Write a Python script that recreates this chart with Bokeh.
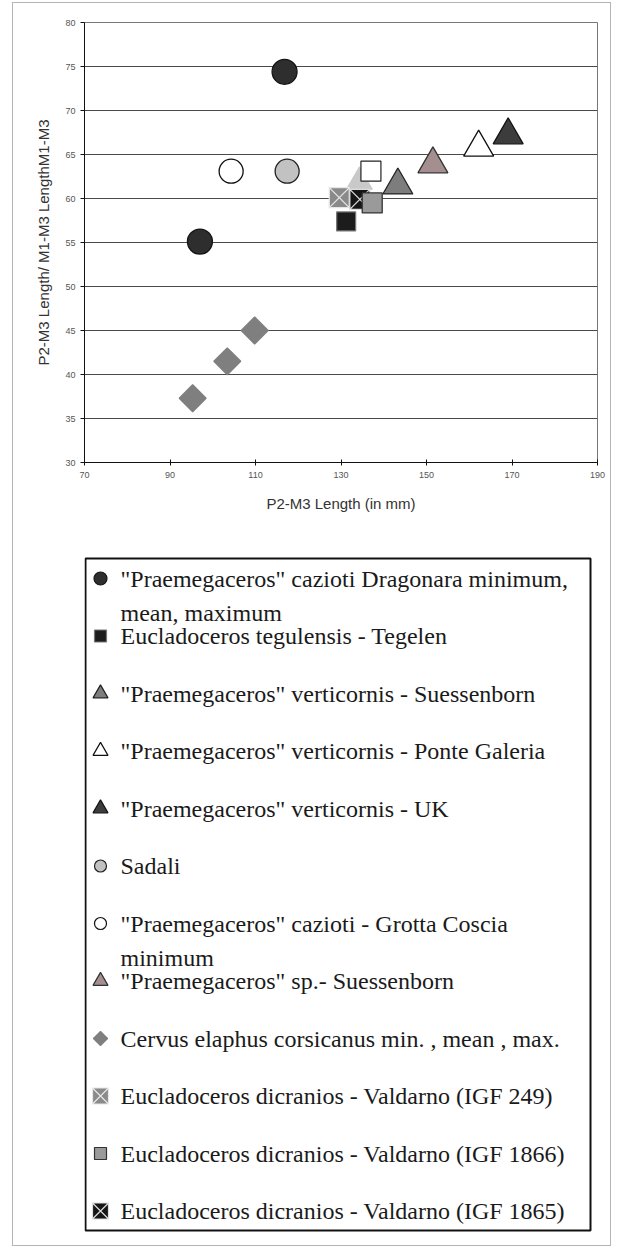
import math
from bokeh.plotting import figure
from bokeh.layouts import column
from bokeh.models import Range1d, FixedTicker, ColumnDataSource
from bokeh.core.properties import value
from bokeh.embed import file_html
from bokeh.resources import INLINE

# ---------------- data ----------------
series_names = [
    '"Praemegaceros" cazioti Dragonara minimum,\nmean, maximum',
    'Eucladoceros tegulensis - Tegelen',
    '"Praemegaceros" verticornis - Suessenborn',
    '"Praemegaceros" verticornis - Ponte Galeria',
    '"Praemegaceros" verticornis - UK',
    'Sadali',
    ' "Praemegaceros" cazioti - Grotta Coscia\nminimum',
    '"Praemegaceros" sp.-  Suessenborn',
    'Cervus elaphus corsicanus min. , mean , max.',
    'Eucladoceros dicranios - Valdarno (IGF 249)',
    'Eucladoceros dicranios - Valdarno (IGF 1866)',
    'Eucladoceros dicranios - Valdarno (IGF 1865)',
]
series_x = [
    [97.0, 116.8],
    [131.2],
    [143.3],
    [162.2],
    [169.1],
    [117.4],
    [104.3],
    [151.5],
    [95.3, 103.4, 109.8],
    [129.6],
    [137.3],
    [134.4],
]
series_y = [
    [55.1, 74.4],
    [57.4],
    [61.5],
    [65.8],
    [67.2],
    [63.1],
    [63.1],
    [63.9],
    [37.3, 41.5, 45.0],
    [60.1],
    [59.5],
    [59.9],
]
# unlabelled points visible in the chart
extra_x = [137.0, 134.3]
extra_y = [63.1, 61.9]

x_ticks = [70, 90, 110, 130, 150, 170, 190]
y_ticks = [30, 35, 40, 45, 50, 55, 60, 65, 70, 75, 80]

# ---------------- styles ----------------
styles = [
    dict(marker="circle", fill="#2e2e2e", line="#151515", size=25, lsize=13, angle=0),
    dict(marker="square", fill="#1c1c1c", line="#777777", size=19, lsize=12, angle=0),
    dict(marker="triangle", fill="#7d7d7d", line="#222222", size=30, lsize=15, angle=0),
    dict(marker="triangle", fill="#ffffff", line="#111111", size=30, lsize=15, angle=0),
    dict(marker="triangle", fill="#3c3c3c", line="#151515", size=30, lsize=15, angle=0),
    dict(marker="circle", fill="#c2c2c2", line="#222222", size=24, lsize=12, angle=0),
    dict(marker="circle", fill="#ffffff", line="#111111", size=24, lsize=12, angle=0),
    dict(marker="triangle", fill="#a48e90", line="#333333", size=30, lsize=15, angle=0),
    dict(marker="square", fill="#7f7f7f", line="#7f7f7f", size=19, lsize=10, angle=math.pi / 4),
    dict(marker="square_x", fill="#8a8a8a", line="#e6e6e6", size=20, lsize=16, angle=0),
    dict(marker="square", fill="#9a9a9a", line="#333333", size=20, lsize=12, angle=0),
    dict(marker="square_x", fill="#151515", line="#dddddd", size=20, lsize=16, angle=0),
]
draw_order = [8, 0, 5, 6, 2, 7, 3, 4, 9, 11, 10, 1]

# ---------------- scatter figure ----------------
W = 597
H1 = 530
p1 = figure(width=W, height=H1, output_backend="svg", toolbar_location=None,
            x_range=Range1d(70, 190), y_range=Range1d(30, 80),
            min_border_left=71, min_border_right=13, min_border_top=19,
            min_border_bottom=H1 - 19 - 440)
p1.background_fill_color = "white"
p1.border_fill_color = "white"
p1.outline_line_color = "#777777"
p1.outline_line_width = 1

p1.xgrid.visible = False
p1.ygrid.ticker = FixedTicker(ticks=y_ticks)
p1.ygrid.grid_line_color = "#4a4a4a"
p1.ygrid.grid_line_width = 1

for ax in (p1.xaxis, p1.yaxis):
    ax.axis_line_color = "#111111"
    ax.major_tick_line_color = "#111111"
    ax.minor_tick_line_color = None
    ax.major_label_text_font = "Liberation Sans"
    ax.major_label_text_font_size = "9px"
    ax.major_label_text_color = "#555555"
    ax.axis_label_text_font = "Liberation Sans"
    ax.axis_label_text_font_size = "15px"
    ax.axis_label_text_font_style = "normal"
    ax.axis_label_text_color = "#333333"

p1.xaxis.ticker = FixedTicker(ticks=x_ticks)
p1.xaxis.major_tick_in = 3
p1.xaxis.major_tick_out = 3
p1.xaxis.major_label_standoff = 6
p1.xaxis.axis_label = "P2-M3 Length (in mm)"
p1.xaxis.axis_label_standoff = 14

p1.yaxis.ticker = FixedTicker(ticks=y_ticks)
p1.yaxis.major_tick_in = 0
p1.yaxis.major_tick_out = 4
p1.yaxis.major_label_standoff = 5
p1.yaxis.axis_label = "P2-M3 Length/ M1-M3 LengthM1-M3"
p1.yaxis.axis_label_standoff = 10

# unlabelled points (behind)
p1.scatter(x=[extra_x[1]], y=[extra_y[1]], marker="triangle", size=26,
           fill_color="#c9c9c9", line_color="#c9c9c9")
p1.scatter(x=[extra_x[0]], y=[extra_y[0]], marker="square", size=20,
           fill_color="#ffffff", line_color="#222222", line_width=1.2)

for i in draw_order:
    st = styles[i]
    p1.scatter(x=series_x[i], y=series_y[i], marker=st["marker"], size=st["size"],
               angle=st["angle"], fill_color=st["fill"], line_color=st["line"],
               line_width=1.3)

# ---------------- legend figure ----------------
H2 = 712
top2 = 3 + H1  # page y where the legend figure starts
p2 = figure(width=W, height=H2, output_backend="svg", toolbar_location=None,
            x_range=Range1d(84, 597), y_range=Range1d(top2 + H2, top2),
            min_border=0, min_border_left=0, min_border_right=0,
            min_border_top=0, min_border_bottom=0)
p2.axis.visible = False
p2.grid.visible = False
p2.outline_line_color = None
p2.background_fill_color = "white"
p2.border_fill_color = "white"

box_left, box_right, box_top, box_bottom = 85, 590, 558, 1230
p2.quad(left=[box_left], right=[box_right], top=[box_top], bottom=[box_bottom],
        fill_color=None, line_color="#111111", line_width=2)

row0 = 578
row_step = 57.5
line2 = 34
marker_x = 100
text_x = 120

txt_x, txt_y, txt = [], [], []
for i, name in enumerate(series_names):
    y0 = row0 + i * row_step
    for j, part in enumerate(name.split("\n")):
        txt_x.append(text_x)
        txt_y.append(y0 + j * line2)
        txt.append(part)
    st = styles[i]
    p2.scatter(x=[marker_x], y=[y0], marker=st["marker"], size=st["lsize"],
               angle=st["angle"], fill_color=st["fill"], line_color=st["line"],
               line_width=1.2)

p2.text(x="x", y="y", text="t",
        source=ColumnDataSource(dict(x=txt_x, y=txt_y, t=txt)),
        text_font=value("Liberation Serif"), text_font_size="24px",
        text_color="#1a1a1a", text_baseline="middle", text_align="left")

layout = column(p1, p2, spacing=0,
                styles={"border": "1px solid #b5b5b5",
                        "margin-left": "12px", "margin-top": "2px"})

open("out.html", "w").write(file_html(layout, INLINE))
